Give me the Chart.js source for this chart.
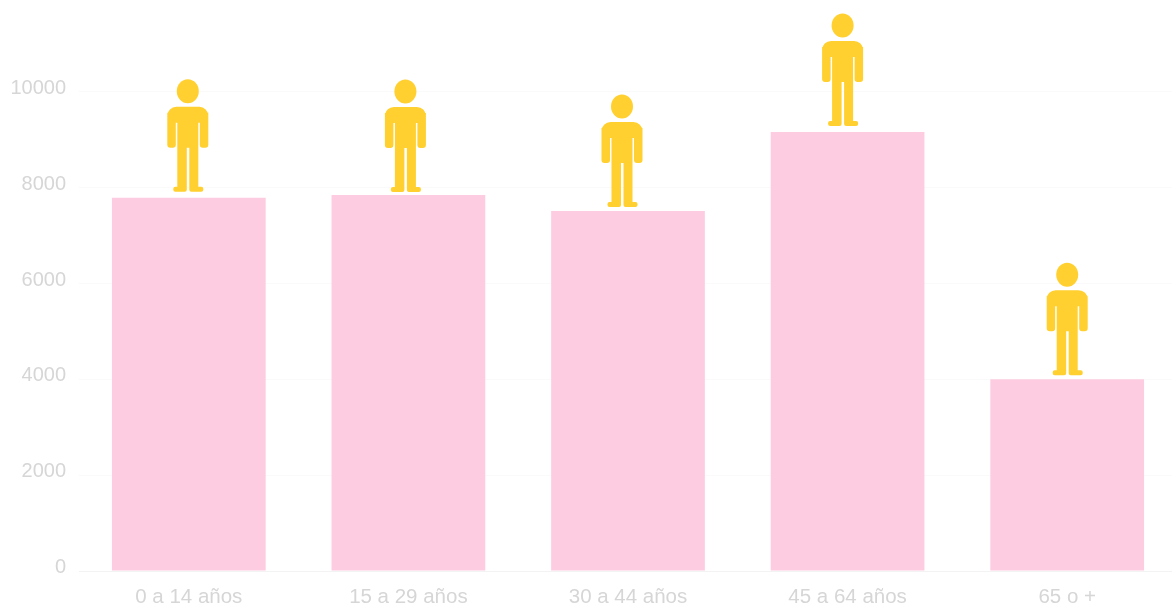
<!DOCTYPE html>
<html>
<head>
<meta charset="utf-8">
<script src="https://cdn.jsdelivr.net/npm/chart.js@4"></script>
<style>
  html, body { margin: 0; padding: 0; background: #fff; overflow: hidden; }
  canvas { display: block; filter: blur(0.5px); }
</style>
</head>
<body>
<canvas id="edades" width="1177" height="607"></canvas>
<script>
const categories = ['0 a 14 años', '15 a 29 años', '30 a 44 años', '45 a 64 años', '65 o +'];
const personas = [7790, 7850, 7515, 9165, 4005];
const yTicks = [0, 2000, 4000, 6000, 8000, 10000];

// the little figures don't sit exactly centred over the bars
const figureShiftX = [-1, -3, -6, -5, 0];
const figureGap = [6, 3, 4, 6, 4];

function drawFigure(ctx, left, top) {
  ctx.save();
  ctx.translate(left, top);
  ctx.fillStyle = '#FFD02F';
  ctx.beginPath();
  ctx.ellipse(20.5, 11.5, 11, 12, 0, 0, Math.PI * 2);
  ctx.fill();
  ctx.beginPath();
  ctx.roundRect(0, 27, 41, 16, [9, 9, 0, 0]);
  ctx.roundRect(0, 33, 8.5, 35, [0, 0, 3, 3]);
  ctx.roundRect(32.5, 33, 8.5, 35, [0, 0, 3, 3]);
  ctx.rect(10, 30, 21, 38);
  ctx.rect(10, 66, 9.5, 44);
  ctx.rect(22, 66, 9, 44);
  ctx.roundRect(6, 107, 13.5, 5, 2);
  ctx.roundRect(22, 107, 14, 5, 2);
  ctx.fill();
  ctx.restore();
}

const figuresPlugin = {
  id: 'figures',
  afterDatasetsDraw(chart) {
    chart.getDatasetMeta(0).data.forEach((bar, i) => {
      drawFigure(chart.ctx, bar.x - 20.5 + figureShiftX[i], bar.y - 112 - figureGap[i]);
    });
  }
};

new Chart(document.getElementById('edades').getContext('2d'), {
  type: 'bar',
  data: {
    labels: categories,
    datasets: [{
      data: personas,
      backgroundColor: '#FDCCE1',
      borderWidth: 0,
      barPercentage: 0.7,
      categoryPercentage: 1
    }]
  },
  options: {
    responsive: false,
    animation: false,
    layout: { padding: 0 },
    plugins: {
      legend: { display: false },
      title: { display: false },
      tooltip: { enabled: false }
    },
    scales: {
      x: {
        grid: { display: false },
        border: { color: '#F3F3F3' },
        ticks: {
          color: '#D6D6D6',
          font: { family: 'Liberation Sans', size: 20.5 },
          maxRotation: 0,
          autoSkip: false,
          padding: 6
        },
        afterFit(scale) { scale.height = 36; scale.paddingRight = 0; scale.paddingLeft = 0; }
      },
      y: {
        min: 0,
        max: 11920,
        grid: { color: '#FAFAFA', drawTicks: false },
        border: { display: false },
        ticks: {
          color: '#D6D6D6',
          font: { family: 'Liberation Sans', size: 20 },
          padding: 13,
          labelOffset: -3.5,
          callback: value => String(value)
        },
        afterBuildTicks(scale) { scale.ticks = yTicks.map(value => ({ value })); },
        afterFit(scale) { scale.width = 79; scale.paddingTop = 0; scale.paddingBottom = 0; }
      }
    }
  },
  plugins: [figuresPlugin]
});
</script>
</body>
</html>
